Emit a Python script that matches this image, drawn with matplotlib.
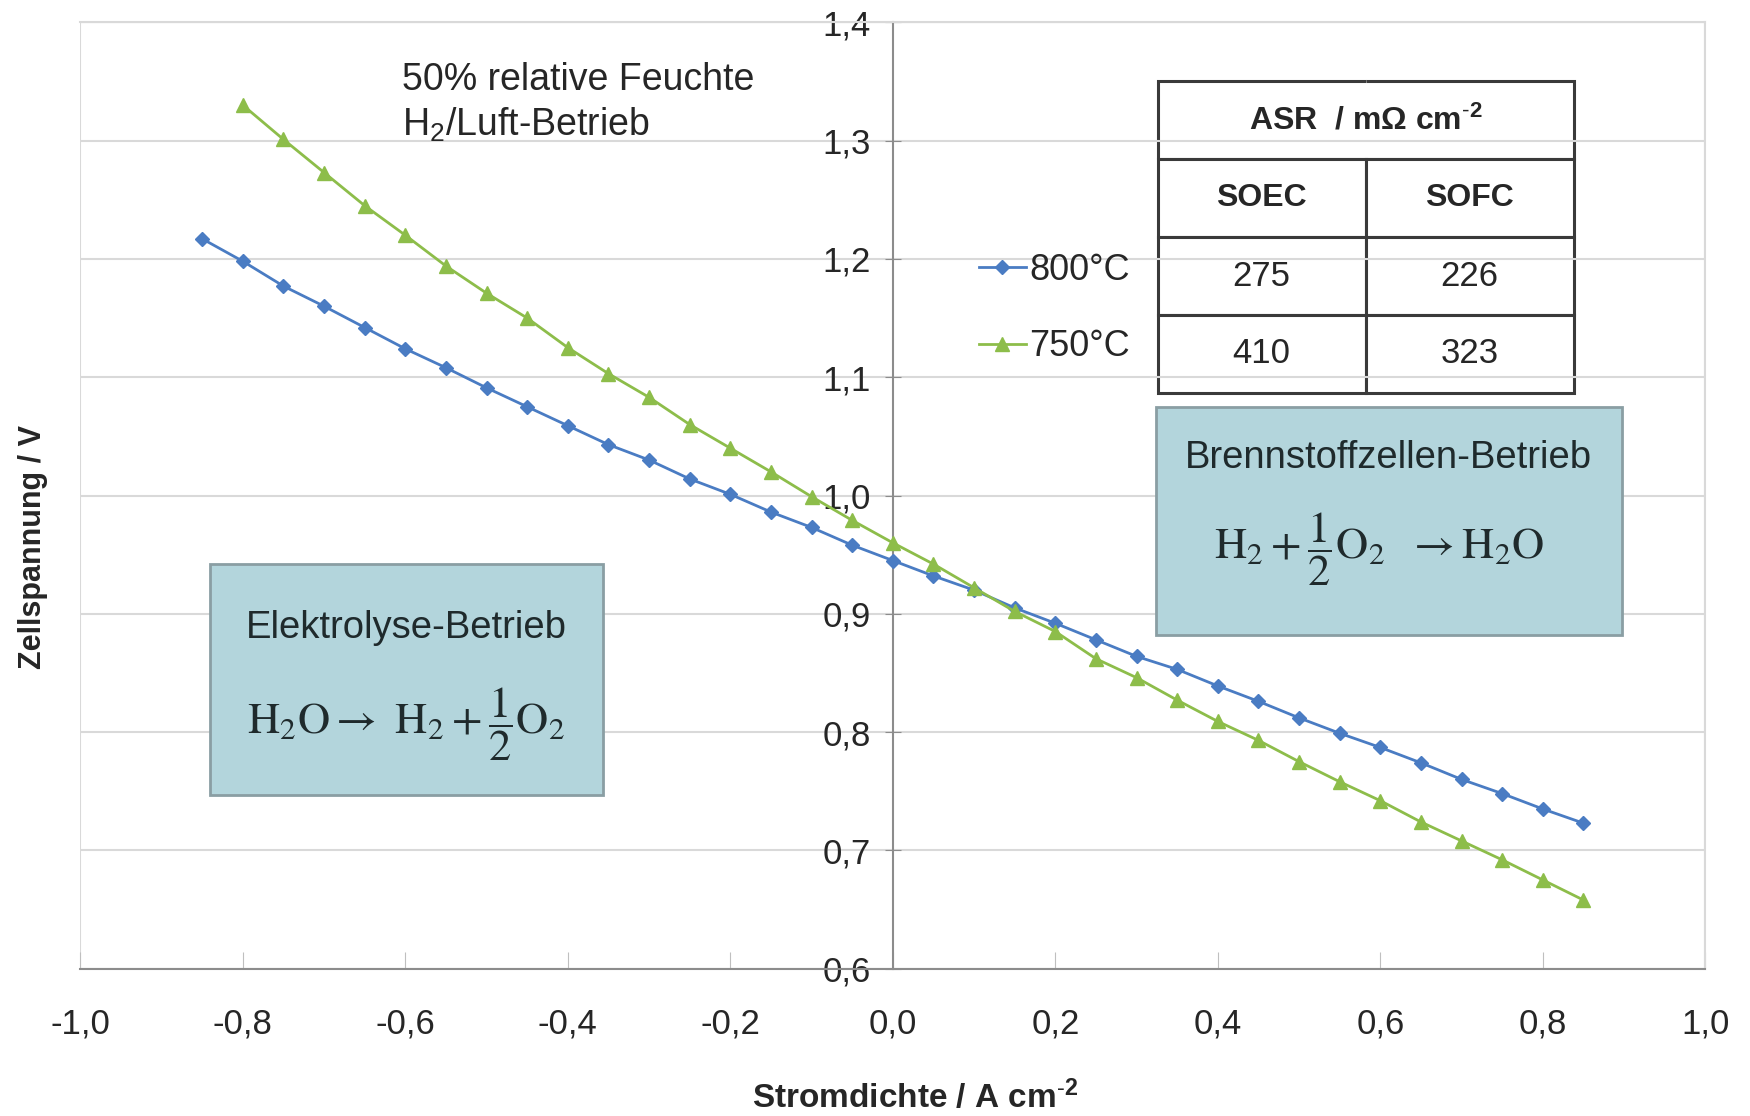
import matplotlib
matplotlib.use("Agg")
import matplotlib.pyplot as plt
from matplotlib.patches import Rectangle
from matplotlib.ticker import FuncFormatter, MultipleLocator

plt.rcParams['font.family'] = ['Liberation Sans', 'DejaVu Sans']
plt.rcParams['mathtext.fontset'] = 'custom'
plt.rcParams['mathtext.rm'] = 'Liberation Sans'
plt.rcParams['mathtext.it'] = 'Liberation Sans:italic'
plt.rcParams['mathtext.bf'] = 'Liberation Sans:bold'

# Daten
strom_800 = [-0.85, -0.80, -0.75, -0.70, -0.65, -0.60, -0.55, -0.50, -0.45, -0.40,
             -0.35, -0.30, -0.25, -0.20, -0.15, -0.10, -0.05, 0.00, 0.05, 0.10,
             0.15, 0.20, 0.25, 0.30, 0.35, 0.40, 0.45, 0.50, 0.55, 0.60,
             0.65, 0.70, 0.75, 0.80, 0.85]
spannung_800 = [1.217, 1.198, 1.177, 1.160, 1.142, 1.124, 1.108, 1.091, 1.075, 1.059,
                1.043, 1.030, 1.014, 1.001, 0.986, 0.973, 0.958, 0.945, 0.932, 0.920,
                0.905, 0.892, 0.878, 0.864, 0.853, 0.839, 0.826, 0.812, 0.799, 0.787,
                0.774, 0.760, 0.748, 0.735, 0.723]
strom_750 = [-0.80, -0.75, -0.70, -0.65, -0.60, -0.55, -0.50, -0.45, -0.40,
             -0.35, -0.30, -0.25, -0.20, -0.15, -0.10, -0.05, 0.00, 0.05, 0.10,
             0.15, 0.20, 0.25, 0.30, 0.35, 0.40, 0.45, 0.50, 0.55, 0.60,
             0.65, 0.70, 0.75, 0.80, 0.85]
spannung_750 = [1.330, 1.301, 1.273, 1.245, 1.220, 1.194, 1.171, 1.150, 1.125,
                1.103, 1.083, 1.060, 1.040, 1.020, 0.999, 0.979, 0.960, 0.942, 0.922,
                0.902, 0.885, 0.862, 0.846, 0.827, 0.809, 0.793, 0.775, 0.758, 0.742,
                0.724, 0.708, 0.692, 0.675, 0.658]

asr_kopf = ["SOEC", "SOFC"]
asr_800 = ["275", "226"]
asr_750 = ["410", "323"]

blau = '#4a7cc3'
gruen = '#8dbd4a'
text_farbe = '#262626'

fig = plt.figure(figsize=(17.5, 11.16), dpi=100)
ax = fig.add_axes([0.0459, 0.132, 0.9286, 0.848])

ax.plot(strom_800, spannung_800, color=blau, lw=2, marker='D', ms=7,
        label='800°C', zorder=3)
ax.plot(strom_750, spannung_750, color=gruen, lw=2, marker='^', ms=10,
        label='750°C', zorder=3)

ax.set_xlim(-1.0, 1.0)
ax.set_ylim(0.6, 1.4)
ax.xaxis.set_major_locator(MultipleLocator(0.2))
ax.yaxis.set_major_locator(MultipleLocator(0.1))


def komma(v, pos):
    if abs(v) < 1e-9:
        v = 0.0
    return f"{v:.1f}".replace('.', ',')


ax.xaxis.set_major_formatter(FuncFormatter(komma))
ax.yaxis.set_major_formatter(FuncFormatter(komma))

ax.grid(axis='y', color='#d9d9d9', lw=1.5)
ax.set_axisbelow(True)

for s in ['top', 'right']:
    ax.spines[s].set_color('#d9d9d9')
    ax.spines[s].set_linewidth(1.5)
ax.spines['left'].set_position(('data', 0))
ax.spines['left'].set_color('#8c8c8c')
ax.spines['left'].set_linewidth(1.5)
ax.spines['bottom'].set_color('#8c8c8c')
ax.spines['bottom'].set_linewidth(1.5)
# Rahmen links (Plotbereich)
ax.add_patch(Rectangle((0, 0), 1, 1, transform=ax.transAxes, fill=False,
                       edgecolor='#d9d9d9', lw=1.5, zorder=0))

ax.tick_params(axis='y', direction='inout', length=12, color='#8c8c8c',
               labelsize=25, pad=10, labelcolor=text_farbe)
ax.tick_params(axis='x', direction='in', length=12, color='#bfbfbf',
               labelsize=25, pad=28, labelcolor=text_farbe)

fig.text(0.019, 0.51, 'Zellspannung / V', rotation=90, ha='center', va='center',
         fontsize=22, fontweight='bold', color=text_farbe)
fig.text(0.523, 0.017, r'Stromdichte / A cm$^{\text{-}\mathbf{2}}$', ha='center',
         va='center', fontsize=24, fontweight='bold', color=text_farbe)

ax.text(0.198, 0.958, '50% relative Feuchte\nH$_2$/Luft-Betrieb', transform=ax.transAxes,
        ha='left', va='top', fontsize=27, linespacing=1.25, color=text_farbe)

leg = ax.legend(loc='center right', bbox_to_anchor=(0.655, 0.6975), frameon=False,
                fontsize=26, labelspacing=1.15, handlelength=1.3, handletextpad=0.1,
                borderaxespad=0)
for t in leg.get_texts():
    t.set_color(text_farbe)

# ASR-Tabelle
zellen = [["", ""], asr_kopf, asr_800, asr_750]
tab = ax.table(cellText=zellen, bbox=[0.663, 0.6085, 0.256, 0.329], cellLoc='center')
tab.auto_set_font_size(False)
for (r, c), zelle in tab.get_celld().items():
    zelle.set_edgecolor('#3a3a3a')
    zelle.set_linewidth(2.2)
    zelle.set_facecolor('white')
    zelle.get_text().set_fontsize(25)
    zelle.get_text().set_color(text_farbe)
    if r == 1:
        zelle.get_text().set_fontweight('bold')
        zelle.get_text().set_fontsize(23)
    if r == 0:
        zelle.visible_edges = 'BLT' if c == 0 else 'BRT'
ax.text(0.791, 0.9375 - 0.329 / 8, r'ASR  / m$\mathbf{\Omega}$ cm$^{\text{-}\mathbf{2}}$',
        transform=ax.transAxes, ha='center', va='center', fontsize=23,
        fontweight='bold', color=text_farbe, zorder=10)

# Betriebsarten-Kästen
kasten_farbe = '#b3d5dc'
ax.add_patch(Rectangle((0.0797, 0.184), 0.2417, 0.244, transform=ax.transAxes,
                       facecolor=kasten_farbe, edgecolor='#8a9ea3', lw=2, zorder=4))
ax.text(0.2005, 0.3597, 'Elektrolyse-Betrieb', transform=ax.transAxes, ha='center',
        va='center', fontsize=27.5, color='#1f2a2c', zorder=5)
ax.text(0.2005, 0.258, r'$\mathrm{H_2O} \rightarrow\ \mathrm{H_2} + \dfrac{1}{2}\mathrm{O_2}$',
        transform=ax.transAxes, ha='center', va='center', fontsize=32,
        color='#1f2a2c', math_fontfamily='stix', zorder=5)

ax.add_patch(Rectangle((0.662, 0.3526), 0.2865, 0.2414, transform=ax.transAxes,
                       facecolor=kasten_farbe, edgecolor='#8a9ea3', lw=2, zorder=4))
ax.text(0.805, 0.540, 'Brennstoffzellen-Betrieb', transform=ax.transAxes, ha='center',
        va='center', fontsize=27.5, color='#1f2a2c', zorder=5)
ax.text(0.799, 0.443, r'$\mathrm{H_2} + \dfrac{1}{2}\mathrm{O_2}\ \ \rightarrow \mathrm{H_2O}$',
        transform=ax.transAxes, ha='center', va='center', fontsize=32,
        color='#1f2a2c', math_fontfamily='stix', zorder=5)

fig.savefig('out.png', dpi=100)
